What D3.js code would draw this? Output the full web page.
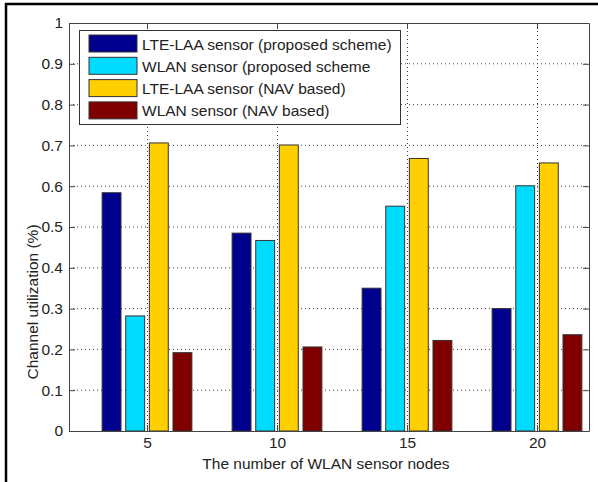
<!DOCTYPE html>
<html>
<head>
<meta charset="utf-8">
<script src="https://cdn.jsdelivr.net/npm/d3@7"></script>
<style>
  body { margin: 0; background: #fff; }
  text { font-family: "Liberation Sans", Arial, sans-serif; fill: #222; }
</style>
</head>
<body>
<div id="chart"></div>
<script>
// data
var nodes = [5, 10, 15, 20];
var series = ["LTE-LAA sensor (proposed scheme)", "WLAN sensor (proposed scheme",
              "LTE-LAA sensor (NAV based)", "WLAN sensor (NAV based)"];
var lteProposed = [0.584, 0.485, 0.350, 0.300];
var wlanProposed = [0.282, 0.467, 0.551, 0.601];
var lteNav = [0.706, 0.701, 0.668, 0.657];
var wlanNav = [0.192, 0.206, 0.222, 0.236];
var yTicks = [0, 0.1, 0.2, 0.3, 0.4, 0.5, 0.6, 0.7, 0.8, 0.9, 1];
var colors = ["#00008f", "#00dcff", "#ffcf00", "#800000"];

var values = [lteProposed, wlanProposed, lteNav, wlanNav];

var W = 598, H = 482;
var margin = { left: 69, right: 9, top: 23, bottom: 51 };
var width = W - margin.left - margin.right;
var height = H - margin.top - margin.bottom;

var svg = d3.select("#chart").append("svg")
  .attr("width", W).attr("height", H);

// outer frame (only top/left visible in the crop)
svg.append("rect")
  .attr("x", 6).attr("y", 4).attr("width", 620).attr("height", 520)
  .attr("fill", "none").attr("stroke", "#000").attr("stroke-width", 2.5);

var g = svg.append("g")
  .attr("transform", "translate(" + margin.left + "," + margin.top + ")");

var x = d3.scaleLinear().domain([2, 22]).range([0, width]);
var y = d3.scaleLinear().domain([0, 1]).range([height, 0]);

var groupW = (x(5) - x(0)) * 0.727;
var xSub = d3.scaleBand().domain(d3.range(series.length))
  .range([-groupW / 2, groupW / 2]).paddingInner(0.2).paddingOuter(0.1);

// grid
g.selectAll(".hgrid").data(yTicks.slice(1, -1)).enter().append("line")
  .attr("x1", 0).attr("x2", width)
  .attr("y1", d => y(d)).attr("y2", d => y(d))
  .attr("stroke", "#444").attr("stroke-width", 1).attr("stroke-dasharray", "1,3");
g.selectAll(".vgrid").data(nodes).enter().append("line")
  .attr("x1", d => Math.round(x(d)) + 0.5).attr("x2", d => Math.round(x(d)) + 0.5)
  .attr("y1", 0).attr("y2", height)
  .attr("stroke", "#444").attr("stroke-width", 1).attr("stroke-dasharray", "1,3");

// bars
var bars = [];
nodes.forEach(function (n, i) {
  values.forEach(function (s, j) {
    bars.push({ n: n, s: j, v: s[i] });
  });
});
g.selectAll(".bar").data(bars).enter().append("rect")
  .attr("class", "bar")
  .attr("x", d => x(d.n) + xSub(d.s))
  .attr("y", d => y(d.v))
  .attr("width", xSub.bandwidth())
  .attr("height", d => height - y(d.v))
  .attr("fill", d => colors[d.s])
  .attr("stroke", "#333").attr("stroke-width", 1);

// axes (MATLAB style: box, inward ticks)
var axisColor = "#444";
var xb = g.append("g").attr("transform", "translate(0," + height + ")")
  .call(d3.axisBottom(x).tickValues(nodes).tickSizeInner(-6).tickSizeOuter(0).tickPadding(6));
var xt = g.append("g")
  .call(d3.axisTop(x).tickValues(nodes).tickSizeInner(-6).tickSizeOuter(0).tickFormat(""));
var yl = g.append("g")
  .call(d3.axisLeft(y).tickValues(yTicks).tickSizeInner(-6).tickSizeOuter(0).tickPadding(6)
    .tickFormat(d => d === 0 || d === 1 ? d3.format("d")(d) : d3.format(".1f")(d)));
var yr = g.append("g").attr("transform", "translate(" + width + ",0)")
  .call(d3.axisRight(y).tickValues(yTicks).tickSizeInner(-6).tickSizeOuter(0).tickFormat(""));

[xb, xt, yl, yr].forEach(function (a) {
  a.select(".domain").attr("stroke", axisColor);
  a.selectAll(".tick line").attr("stroke", axisColor);
  a.selectAll("text").style("font-size", "15.5px").attr("fill", "#222")
    .style("font-family", "'Liberation Sans', Arial, sans-serif");
});

// axis labels
svg.append("text")
  .attr("x", 326).attr("y", 469)
  .attr("text-anchor", "middle").style("font-size", "15.5px")
  .text("The number of WLAN sensor nodes");
svg.append("text")
  .attr("transform", "translate(38,302) rotate(-90)")
  .attr("text-anchor", "middle").style("font-size", "15.5px")
  .text("Channel utilization (%)");

// legend
var lg = svg.append("g").attr("transform", "translate(79,30)");
lg.append("rect").attr("x", 0.5).attr("y", 0.5).attr("width", 321).attr("height", 94)
  .attr("fill", "#fff").attr("stroke", "#333").attr("stroke-width", 1);
var item = lg.selectAll(".item").data(series).enter().append("g")
  .attr("transform", (d, i) => "translate(10," + (5 + i * 22.3) + ")");
item.append("rect").attr("width", 48).attr("height", 17)
  .attr("fill", (d, i) => colors[i]).attr("stroke", "#333").attr("stroke-width", 1);
item.append("text").attr("x", 53).attr("y", 14.5)
  .style("font-size", "15.5px").text(d => d);
</script>
</body>
</html>
